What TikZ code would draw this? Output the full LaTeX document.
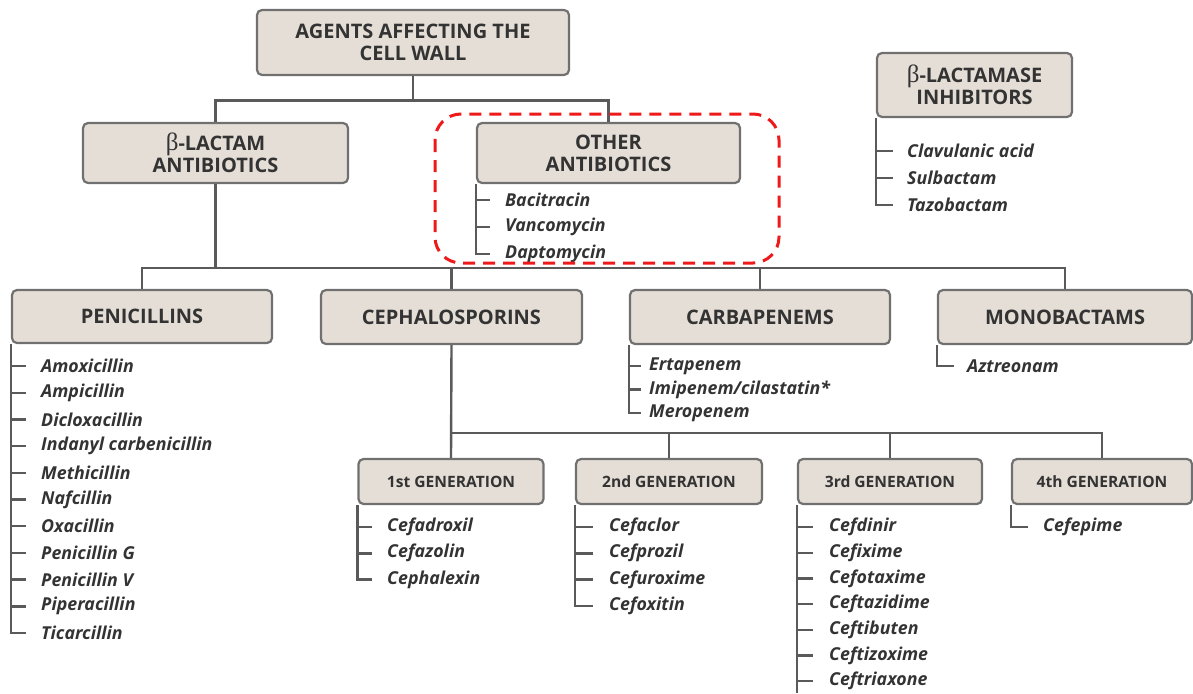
\documentclass[tikz,border=0pt]{standalone}
\usepackage{fontspec}
\setmainfont{Open Sans}
\newfontfamily\betafont{Liberation Serif}
\definecolor{boxfill}{HTML}{E5DED6}
\definecolor{boxline}{HTML}{707070}
\definecolor{linec}{HTML}{5A5A5A}
\definecolor{txt}{HTML}{333333}
\definecolor{redd}{HTML}{EE1A1A}
\newcommand\bet{{\betafont\mdseries\fontsize{25}{21}\selectfont β}}
\begin{document}
\begin{tikzpicture}[x=1pt,y=-1pt,
  hbox/.style={draw=boxline, line width=2.2pt, fill=boxfill, rounded corners=5pt, inner sep=0pt,
    font=\bfseries\fontsize{20}{22}\selectfont, text=txt, align=center},
  gbox/.style={hbox, font=\bfseries\fontsize{15.6}{16}\selectfont},
  item/.style={anchor=west, inner sep=0pt, font=\bfseries\itshape\fontsize{17.8}{18}\selectfont, text=txt},
  conn/.style={draw=linec, line width=2.4pt}]
\useasboundingbox (0,0) rectangle (1193,693);
% boxes
\node[hbox, minimum width=312, minimum height=65] (top) at (413,42.5) {AGENTS AFFECTING THE\\CELL WALL};
\node[hbox, minimum width=265, minimum height=60] (blact) at (215.5,153) {\bet-LACTAM\\ANTIBIOTICS};
\node[hbox, minimum width=263, minimum height=60] (other) at (608.5,153) {OTHER\\ANTIBIOTICS};
\node[hbox, minimum width=195, minimum height=64] (lacinh) at (974.5,85) {\bet-LACTAMASE\\INHIBITORS};
\node[hbox, minimum width=260, minimum height=53] (pen) at (142,316.5) {PENICILLINS};
\node[hbox, minimum width=261, minimum height=54] (ceph) at (451.5,317) {CEPHALOSPORINS};
\node[hbox, minimum width=260, minimum height=54] (carb) at (760,317) {CARBAPENEMS};
\node[hbox, minimum width=254, minimum height=54] (mono) at (1065,317) {MONOBACTAMS};
\node[gbox, minimum width=185, minimum height=45] (gen1) at (451,481.5) {1st GENERATION};
\node[gbox, minimum width=186, minimum height=45] (gen2) at (669,481.5) {2nd GENERATION};
\node[gbox, minimum width=184, minimum height=45] (gen3) at (890,481.5) {3rd GENERATION};
\node[gbox, minimum width=180, minimum height=45] (gen4) at (1102,481.5) {4th GENERATION};
% junction coordinates
\coordinate (j1) at (0,100.5);
\coordinate (j2) at (0,268);
\coordinate (j3) at (0,433);
% tree connectors
\draw[conn] (top.south) -- (top.south |- j1);
\draw[conn] (blact.north) -- (blact.north |- j1) -- (other.north |- j1) -- (other.north);
\draw[conn] (blact.south) -- (blact.south |- j2);
\draw[conn] (pen.north) -- (pen.north |- j2) -- (mono.north |- j2) -- (mono.north);
\draw[conn] (ceph.north) -- (ceph.north |- j2);
\draw[conn] (carb.north) -- (carb.north |- j2);
\draw[conn] (ceph.south) -- (gen1.north);
\draw[conn] (gen1.north |- j3) -- (gen4.north |- j3) -- (gen4.north);
\draw[conn] (gen2.north |- j3) -- (gen2.north);
\draw[conn] (gen3.north |- j3) -- (gen3.north);
% item lists
\foreach [count=\i] \t in {Bacitracin,Vancomycin,Daptomycin}
  {\node[item] (oth\i) at (505,{200+(\i-1)*27}) {\t};
   \draw[conn] (other.south west) |- ([xshift=-15pt]oth\i.west);}
\foreach [count=\i] \t in {Clavulanic acid,Sulbactam,Tazobactam}
  {\node[item] (inh\i) at (907,{151+(\i-1)*27}) {\t};
   \draw[conn] (lacinh.south west) |- ([xshift=-14pt]inh\i.west);}
\foreach [count=\i] \t in {Amoxicillin,Ampicillin,Dicloxacillin,Indanyl carbenicillin,Methicillin,Nafcillin,Oxacillin,Penicillin G,Penicillin V,Piperacillin,Ticarcillin}
  {\node[item] (pen\i) at (41,{366+(\i-1)*26.7}) {\t};
   \draw[conn] (pen.south west) |- ([xshift=-15pt]pen\i.west);}
\foreach [count=\i] \t in {Ertapenem,Imipenem/cilastatin*,Meropenem}
  {\node[item] (carb\i) at (649,{366+(\i-1)*23.5}) {\t};
   \draw[conn] (carb.south west) |- ([xshift=-8pt]carb\i.west);}
\node[item] (mono1) at (967,366) {Aztreonam};
\draw[conn] (mono.south west) |- ([xshift=-13pt]mono1.west);
\foreach [count=\i] \t in {Cefadroxil,Cefazolin,Cephalexin}
  {\node[item] (ga\i) at (387,{527+(\i-1)*26.3}) {\t};
   \draw[conn] (gen1.south west) |- ([xshift=-15pt]ga\i.west);}
\foreach [count=\i] \t in {Cefaclor,Cefprozil,Cefuroxime,Cefoxitin}
  {\node[item] (gb\i) at (609,{527+(\i-1)*26.3}) {\t};
   \draw[conn] (gen2.south west) |- ([xshift=-16pt]gb\i.west);}
\foreach [count=\i] \t in {Cefdinir,Cefixime,Cefotaxime,Ceftazidime,Ceftibuten,Ceftizoxime,Ceftriaxone}
  {\node[item] (gc\i) at (829,{527+(\i-1)*25.7}) {\t};
   \draw[conn] (gen3.south west) |- ([xshift=-16pt]gc\i.west);}
\draw[conn] (gc7.west -| gen3.south west) -- ++(0,12);
\node[item] (gd1) at (1043,527) {Cefepime};
\draw[conn] (gen4.south west) |- ([xshift=-15pt]gd1.west);
% highlight
\draw[redd, line width=3pt, dash pattern=on 12pt off 8pt, rounded corners=26pt] (435,114) rectangle (779,263);
\end{tikzpicture}
\end{document}
